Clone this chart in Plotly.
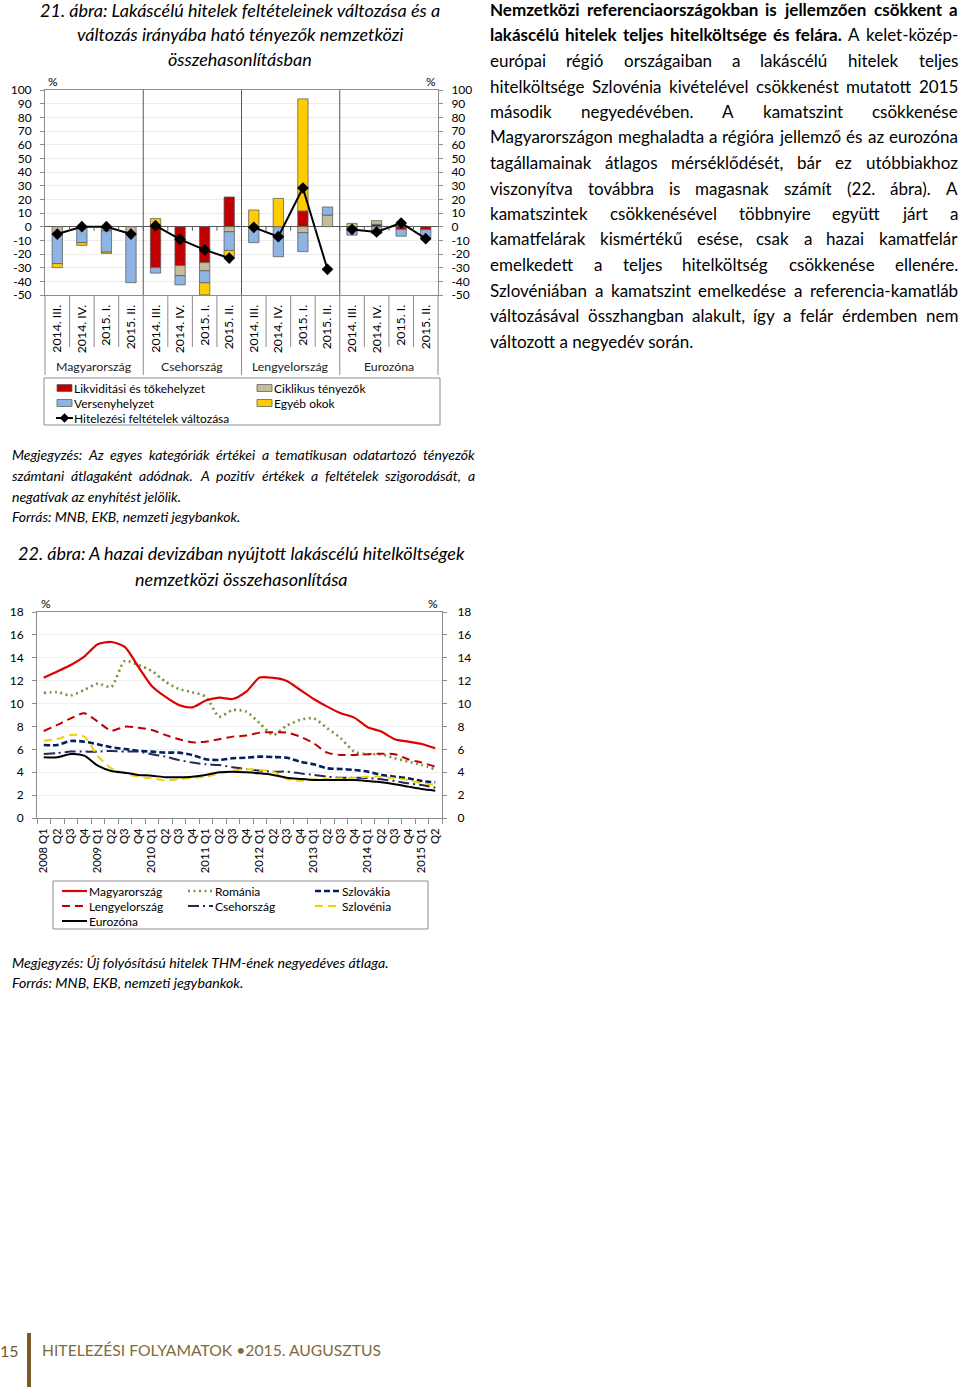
import json
import plotly.graph_objects as go

W, H = 960, 1390
FONT = "Lato, 'Open Sans', sans-serif"

# ---------------- Data: 21. ábra ----------------
groups21 = ["Magyarország", "Csehország", "Lengyelország", "Eurozóna"]
quarters21 = ["2014. III.", "2014. IV.", "2015. I.", "2015. II."]
likviditas = [0, 0, 0, 0, -30, -28.5, -26.3, 21.7, 0, 0, 11.5, 0, -1.2, 1.7, -2, -2.2]
ciklikus = [-5, 0, -3, -5, 0, -7.3, -6, -3.7, 0, 0, -4.4, 8.5, 2.4, 2.7, 0, 0]
verseny = [-22, -11.7, -15.6, -36, -4, -6.8, -8.8, -13.7, -11.7, -22, -13.9, 5.9, -5, -5.1, -5, -5.9]
egyeb = [-3, -2, -1, 0, 5.9, 0, -8.8, -5.4, 12.2, 20.7, 82, 0, 0, 0, 0, 0]
hitelezes = [-5.4, 0, 0, -5.4, 0.7, -9.3, -17, -23, -0.5, -7.3, 28.3, -31.2, -2, -3.9, 2.7, -8.8]
y21_ticks = [100, 90, 80, 70, 60, 50, 40, 30, 20, 10, 0, -10, -20, -30, -40, -50]

# ---------------- Data: 22. ábra ----------------
q22 = ["2008 Q1", "Q2", "Q3", "Q4", "2009 Q1", "Q2", "Q3", "Q4", "2010 Q1", "Q2", "Q3", "Q4",
       "2011 Q1", "Q2", "Q3", "Q4", "2012 Q1", "Q2", "Q3", "Q4", "2013 Q1", "Q2", "Q3", "Q4",
       "2014 Q1", "Q2", "Q3", "Q4", "2015 Q1", "Q2"]
magyarorszag = [12.26, 12.8, 13.37, 14.1, 15.18, 15.38, 14.95, 13.23, 11.54, 10.6, 9.88, 9.67,
                10.26, 10.52, 10.4, 11.04, 12.27, 12.24, 11.98, 11.19, 10.4, 9.73, 9.15, 8.77,
                7.93, 7.55, 6.88, 6.67, 6.47, 6.09]
romania = [10.93, 10.99, 10.72, 11.19, 11.74, 11.45, 13.72, 13.37, 12.85, 11.92, 11.28, 10.99,
           10.6, 8.86, 9.44, 9.29, 8.28, 7.26, 8.07, 8.57, 8.71, 7.84, 6.97, 5.8,
           5.57, 5.57, 5.22, 4.92, 4.63, 4.26]
lengyelorszag = [7.6, 8.13, 8.71, 9.15, 8.42, 7.63, 7.98, 7.89, 7.69, 7.26, 6.88, 6.61,
                 6.67, 6.88, 7.11, 7.2, 7.46, 7.49, 7.46, 7.11, 6.53, 5.71, 5.51, 5.51,
                 5.57, 5.62, 5.57, 5.13, 4.84, 4.49]
szlovakia = [6.38, 6.38, 6.73, 6.67, 6.44, 6.18, 6.03, 5.88, 5.8, 5.71, 5.71, 5.51,
             5.13, 5.07, 5.22, 5.27, 5.36, 5.33, 5.27, 4.92, 4.69, 4.34, 4.28, 4.2,
             4.05, 3.76, 3.61, 3.47, 3.23, 3.12]
csehorszag = [5.59, 5.68, 5.8, 5.8, 5.8, 5.86, 5.8, 5.8, 5.57, 5.36, 5.07, 4.84,
              4.69, 4.63, 4.43, 4.28, 4.14, 4.05, 4.05, 3.9, 3.76, 3.61, 3.52, 3.52,
              3.5, 3.38, 3.23, 3.03, 2.88, 2.65]
szlovenia = [6.76, 6.9, 7.26, 7.11, 5.42, 4.34, 3.9, 3.61, 3.47, 3.29, 3.38, 3.52,
             3.61, 3.9, 4.11, 4.28, 4.2, 4.05, 3.41, 3.26, 3.38, 3.41, 3.47, 3.52,
             3.61, 3.61, 3.47, 3.32, 3.03, 2.95]
eurozona = [5.3, 5.3, 5.59, 5.45, 4.57, 4.11, 3.96, 3.76, 3.7, 3.56, 3.56, 3.61,
            3.76, 3.99, 4.05, 3.99, 3.9, 3.76, 3.52, 3.41, 3.32, 3.32, 3.32, 3.32,
            3.23, 3.12, 2.95, 2.74, 2.53, 2.39]
y22_ticks = [0, 2, 4, 6, 8, 10, 12, 14, 16, 18]

# ---------------- Text ----------------
body_lines = [
    [("Nemzetközi referenciaországokban is jellemzően csökkent a", True)],
    [("lakáscélú hitelek teljes hitelköltsége és felára.", True), ("A kelet-közép-", False)],
    [("európai régió országaiban a lakáscélú hitelek teljes", False)],
    [("hitelköltsége Szlovénia kivételével csökkenést mutatott 2015", False)],
    [("második negyedévében. A kamatszint csökkenése", False)],
    [("Magyarországon meghaladta a régióra jellemző és az eurozóna", False)],
    [("tagállamainak átlagos mérséklődését, bár ez utóbbiakhoz", False)],
    [("viszonyítva továbbra is magasnak számít (22. ábra). A", False)],
    [("kamatszintek csökkenésével többnyire együtt járt a", False)],
    [("kamatfelárak kismértékű esése, csak a hazai kamatfelár", False)],
    [("emelkedett a teljes hitelköltség csökkenése ellenére.", False)],
    [("Szlovéniában a kamatszint emelkedése a referencia-kamatláb", False)],
    [("változásával összhangban alakult, így a felár érdemben nem", False)],
    [("változott a negyedév során.", False)],
]
note21 = [
    "Megjegyzés: Az egyes kategóriák értékei a tematikusan odatartozó tényezők",
    "számtani átlagaként adódnak. A pozitív értékek a feltételek szigorodását, a",
    "negatívak az enyhítést jelölik.",
    "Forrás: MNB, EKB, nemzeti jegybankok.",
]
note22 = [
    "Megjegyzés: Új folyósítású hitelek THM-ének negyedéves átlaga.",
    "Forrás: MNB, EKB, nemzeti jegybankok.",
]

# ---------------- Helpers ----------------
def px(x):
    return x / W

def py(y):
    return 1 - y / H

def cw(ch):
    if ch in "iljíìîï.,:;'!|": return 0.23
    if ch in "ft": return 0.31
    if ch == "r": return 0.35
    if ch == "m": return 0.82
    if ch == "w": return 0.73
    if ch in "()": return 0.3
    if ch == "-": return 0.34
    if ch == " ": return 0.19
    if ch.isdigit(): return 0.58
    if ch in "MW": return 0.86
    if ch == "I": return 0.27
    if ch.isupper(): return 0.64
    if ch in "szc": return 0.44
    if ch in "vxyk": return 0.48
    return 0.53

def est(word, size, bold):
    w = sum(cw(c) for c in word) * size
    return w * (1.06 if bold else 1.0)

annotations = []
shapes = []
justified = []   # [x0, x1, [annotation indices]] refined in the browser from measured widths

def add_text(text, x, y, size, anchor="left", color="#000", italic=False, bold=False):
    t = text
    if bold:
        t = "<b>" + t + "</b>"
    if italic:
        t = "<i>" + t + "</i>"
    annotations.append(dict(text=t, x=px(x), y=py(y), xref="paper", yref="paper",
                            xanchor=anchor, yanchor="middle", showarrow=False,
                            borderpad=0, borderwidth=0,
                            font=dict(size=size, color=color, family=FONT)))
    return len(annotations) - 1

def add_justified(parts, y, x0, x1, size, italic=False):
    words = []
    for txt, b in parts:
        for w in txt.split(" "):
            words.append((w, b))
    widths = [est(w, size, b) for w, b in words]
    n = len(words)
    gap = (x1 - x0 - sum(widths)) / (n - 1)
    mid = (n + 1) // 2
    ids = []
    for i, (w, b) in enumerate(words):
        if i < mid:
            x = x0 + sum(widths[:i]) + i * gap
            ids.append(add_text(w, x, y, size, "left", italic=italic, bold=b))
        else:
            x = x1 - sum(widths[i + 1:]) - (n - 1 - i) * gap
            ids.append(add_text(w, x, y, size, "right", italic=italic, bold=b))
    justified.append([x0, x1, ids])

# ---------------- Figure ----------------
fig = go.Figure()

RED, TAN, BLUE, YEL = "#C00000", "#C4BD97", "#8DB4E2", "#FFCC00"
EDGE = "#595959"
AXC = "#8C8C8C"
xs = list(range(16))

def nz(v):
    return [None if a == 0 else a for a in v]

for name, vals, col in [("Likviditási és tőkehelyzet", likviditas, RED),
                        ("Ciklikus tényezők", ciklikus, TAN),
                        ("Versenyhelyzet", verseny, BLUE),
                        ("Egyéb okok", egyeb, YEL)]:
    fig.add_trace(go.Bar(x=xs, y=nz(vals), name=name, width=0.42,
                         marker=dict(color=col, line=dict(color=EDGE, width=0.75)),
                         showlegend=False, xaxis="x", yaxis="y", hoverinfo="skip"))

lx, ly = [], []
for g in range(len(groups21)):
    for k in range(len(quarters21)):
        i = g * len(quarters21) + k
        lx.append(xs[i])
        ly.append(hitelezes[i])
    lx.append(None)
    ly.append(None)
fig.add_trace(go.Scatter(x=lx, y=ly, mode="lines+markers", name="Hitelezési feltételek változása",
                         line=dict(color="black", width=2),
                         marker=dict(symbol="diamond", size=9, color="black"),
                         connectgaps=False, showlegend=False, xaxis="x", yaxis="y2"))

xq = list(range(len(q22)))
series22 = [
    ("Románia", romania, "#77933C", "2px,3.5px", 2.6, "y3"),
    ("Magyarország", magyarorszag, "#E00000", "solid", 2.2, "y3"),
    ("Lengyelország", lengyelorszag, "#C00000", "8px,5px", 2.0, "y3"),
    ("Szlovákia", szlovakia, "#002060", "6px,3px", 2.6, "y3"),
    ("Csehország", csehorszag, "#1F2A5A", "11px,4px,2px,4px", 2.0, "y3"),
    ("Szlovénia", szlovenia, "#F5D000", "8px,5px", 2.0, "y3"),
    ("Eurozóna", eurozona, "#000000", "solid", 2.0, "y4"),
]
for name, vals, col, dash, wdt, yax in series22:
    fig.add_trace(go.Scatter(x=xq, y=vals, mode="lines", name=name,
                             line=dict(color=col, width=wdt, dash=dash, shape="spline", smoothing=0.7),
                             showlegend=False, xaxis="x2", yaxis=yax))

# ---- axes geometry (pixels)
X0a, X1a, Y0a, Y1a = 45, 438, 90, 295     # chart 21 plot area
X0b, X1b, Y0b, Y1b = 37, 442, 612, 818    # chart 22 plot area

tickfont = dict(size=12, color="#000", family=FONT)

fig.update_layout(
    width=W, height=H, margin=dict(l=0, r=0, t=0, b=0, autoexpand=False),
    paper_bgcolor="white", plot_bgcolor="white",
    font=dict(family=FONT, color="#000"),
    barmode="relative", showlegend=False,
    xaxis=dict(domain=[px(X0a), px(X1a)], range=[-0.5, 15.5], anchor="y", automargin=False,
               tickmode="array", tickvals=xs, ticktext=quarters21 * 4, tickangle=-90,
               tickfont=dict(size=12.3, color="#000", family=FONT), ticks="", ticklabelstandoff=4,
               showline=True, linecolor=AXC, linewidth=1, mirror=True,
               showgrid=False, zeroline=False, fixedrange=True),
    yaxis=dict(domain=[py(Y1a), py(Y0a)], range=[-50, 100], anchor="x", automargin=False,
               tickmode="array", tickvals=y21_ticks, ticktext=[str(v) for v in y21_ticks],
               tickfont=tickfont, ticks="outside", ticklen=4, tickcolor=AXC, ticklabelstandoff=6,
               showline=True, linecolor=AXC, linewidth=1,
               showgrid=True, gridcolor="#ECECEC", gridwidth=1,
               zeroline=True, zerolinecolor="#595959", zerolinewidth=1),
    yaxis2=dict(overlaying="y", side="right", range=[-50, 100], anchor="x", automargin=False,
                tickmode="array", tickvals=y21_ticks, ticktext=[str(v) for v in y21_ticks],
                tickfont=tickfont, ticks="outside", ticklen=4, tickcolor=AXC, ticklabelstandoff=6,
                showline=True, linecolor=AXC, linewidth=1, showgrid=False, zeroline=False),
    xaxis2=dict(domain=[px(X0b), px(X1b)], range=[-0.5, 29.5], anchor="y3", automargin=False,
                tickmode="array", tickvals=xq, ticktext=q22, tickangle=-90,
                tickfont=dict(size=11.3, color="#000", family=FONT), ticks="", ticklabelstandoff=5,
                minor=dict(tick0=-0.5, dtick=1, ticks="outside", ticklen=5, tickcolor=AXC),
                showline=True, linecolor=AXC, linewidth=1, mirror=True,
                showgrid=False, zeroline=False),
    yaxis3=dict(domain=[py(Y1b), py(Y0b)], range=[0, 18], anchor="x2", automargin=False,
                tickmode="array", tickvals=y22_ticks, ticktext=[str(v) for v in y22_ticks],
                tickfont=tickfont, ticks="outside", ticklen=4, tickcolor=AXC, ticklabelstandoff=6,
                showline=True, linecolor=AXC, linewidth=1,
                showgrid=True, gridcolor="#F0F0F0", zeroline=False),
    yaxis4=dict(overlaying="y3", side="right", range=[0, 18], anchor="x2", automargin=False,
                tickmode="array", tickvals=y22_ticks, ticktext=[str(v) for v in y22_ticks],
                tickfont=tickfont, ticks="outside", ticklen=4, tickcolor=AXC, ticklabelstandoff=8,
                showline=True, linecolor=AXC, linewidth=1, showgrid=False, zeroline=False),
)

# ---- chart 21 decorations: group dividers, category separators under axis
ncat = len(xs)
catw = (X1a - X0a) / ncat
for g in range(1, len(groups21)):
    b = g * len(quarters21) - 0.5
    shapes.append(dict(type="line", xref="x", yref="y domain", x0=b, x1=b, y0=0, y1=1,
                       line=dict(color="#595959", width=1)))
for k in range(ncat + 1):
    xpix = X0a + k * catw
    is_group = (k % len(quarters21) == 0)
    shapes.append(dict(type="line", xref="paper", yref="paper", x0=px(xpix), x1=px(xpix),
                       y0=py(Y1a), y1=py(375 if is_group else 347),
                       line=dict(color=AXC, width=1)))
    if 0 < k < ncat:
        shapes.append(dict(type="line", xref="x", yref="y", x0=k - 0.5, x1=k - 0.5, y0=0, y1=-3,
                           line=dict(color="#595959", width=1)))
for g, name in enumerate(groups21):
    annotations.append(dict(text=name, x=g * len(quarters21) + 1.5, y=py(366), xref="x", yref="paper",
                            xanchor="center", yanchor="middle", showarrow=False,
                            font=dict(size=12.3, color="#222", family=FONT)))

add_text("%", 48, 81, 12)
add_text("%", 436, 81, 12, "right")
add_text("%", 41, 603, 12)
add_text("%", 438, 603, 12, "right")

# ---- titles
for i, t in enumerate(["21. ábra: Lakáscélú hitelek feltételeinek változása és a",
                       "változás irányába ható tényezők nemzetközi",
                       "összehasonlításban"]):
    add_text(t, 240, 10 + 24.5 * i, 18, "center", italic=True)
for i, t in enumerate(["22. ábra: A hazai devizában nyújtott lakáscélú hitelköltségek",
                       "nemzetközi összehasonlítása"]):
    add_text(t, 241, 553 + 26 * i, 18, "center", italic=True)

# ---- legend chart 21 (manual)
shapes.append(dict(type="rect", xref="paper", yref="paper", x0=px(44), x1=px(440), y0=py(378), y1=py(425),
                   line=dict(color="#8C8C8C", width=1), fillcolor="rgba(0,0,0,0)"))
leg21 = [("Likviditási és tőkehelyzet", RED, 57, 388), ("Ciklikus tényezők", TAN, 257, 388),
         ("Versenyhelyzet", BLUE, 57, 403), ("Egyéb okok", YEL, 257, 403)]
for name, col, x, y in leg21:
    shapes.append(dict(type="rect", xref="paper", yref="paper", x0=px(x), x1=px(x + 15),
                       y0=py(y - 3.5), y1=py(y + 3.5), fillcolor=col, line=dict(color=EDGE, width=0.75)))
    add_text(name, x + 17, y, 12)
shapes.append(dict(type="line", xref="paper", yref="paper", x0=px(56), x1=px(73), y0=py(418), y1=py(418),
                   line=dict(color="black", width=2)))
shapes.append(dict(type="path", xref="paper", yref="paper",
                   path=f"M {px(64.5)},{py(413.5)} L {px(69)},{py(418)} L {px(64.5)},{py(422.5)} L {px(60)},{py(418)} Z",
                   fillcolor="black", line=dict(color="black", width=0.5)))
add_text("Hitelezési feltételek változása", 74, 418, 12)

# ---- legend chart 22 (manual)
shapes.append(dict(type="rect", xref="paper", yref="paper", x0=px(53), x1=px(428), y0=py(881), y1=py(929),
                   line=dict(color="#8C8C8C", width=1), fillcolor="rgba(0,0,0,0)"))
leg_pos = {"Magyarország": (62, 891), "Románia": (188, 891), "Szlovákia": (315, 891),
           "Lengyelország": (62, 906), "Csehország": (188, 906), "Szlovénia": (315, 906),
           "Eurozóna": (62, 921)}
for name, vals, col, dash, wdt, yax in series22:
    x, y = leg_pos[name]
    shapes.append(dict(type="line", xref="paper", yref="paper", x0=px(x), x1=px(x + 25), y0=py(y), y1=py(y),
                       line=dict(color=col, width=wdt, dash=dash)))
    add_text(name, x + 27, y, 12)

# ---- notes
for i, t in enumerate(note21):
    yy = 455 + 20.6 * i
    if i < 2:
        add_justified([(t, False)], yy, 12, 475, 14, italic=True)
    else:
        add_text(t, 12, yy, 14, italic=True)
for i, t in enumerate(note22):
    add_text(t, 12, 962 + 20.5 * i, 14.2, italic=True)

# ---- body text (right column)
for i, parts in enumerate(body_lines):
    yy = 9.5 + 25.5 * i
    if i == len(body_lines) - 1:
        add_text(parts[0][0], 490, yy, 17)
    else:
        add_justified(parts, yy, 490, 958, 17)

# ---- footer
add_text("15", 0, 1350, 16, color="#6E5A2E")
shapes.append(dict(type="rect", xref="paper", yref="paper", x0=px(27), x1=px(31), y0=py(1333), y1=py(1387),
                   fillcolor="#7A5A26", line=dict(width=0)))
add_text("HITELEZÉSI FOLYAMATOK •2015. AUGUSZTUS", 42, 1350, 15.7, color="#7F6A3A")

fig.update_layout(shapes=shapes, annotations=annotations)

# Justify word annotations using the widths measured in the browser.
js = """
document.body.style.margin='0px';
document.body.style.overflow='hidden';
(function(){
  var gd = document.getElementById('{plot_id}');
  var lines = %s;
  var W = %d;
  function fix(){
    try {
      var byIdx = {};
      gd.querySelectorAll('g.annotation').forEach(function(a){ byIdx[a.getAttribute('data-index')] = a; });
      var upd = {};
      lines.forEach(function(L){
        var x0 = L[0], x1 = L[1], ids = L[2];
        var ws = ids.map(function(k){
          var g = byIdx[String(k)];
          var t = g ? g.querySelector('text.annotation-text') : null;
          return t ? t.getBBox().width : 0;
        });
        if (ws.some(function(w){ return !(w > 0); })) return;
        var tot = ws.reduce(function(a,b){ return a+b; }, 0);
        var gap = (x1 - x0 - tot) / (ids.length - 1);
        var x = x0;
        ids.forEach(function(k, j){
          upd['annotations[' + k + '].x'] = x / W;
          upd['annotations[' + k + '].xanchor'] = 'left';
          x += ws[j] + gap;
        });
      });
      if (Object.keys(upd).length) Plotly.relayout(gd, upd);
    } catch(e) {}
  }
  fix();
})();
""" % (json.dumps(justified), W)

fig.write_html("out.html", config={"displayModeBar": False}, post_script=js)
